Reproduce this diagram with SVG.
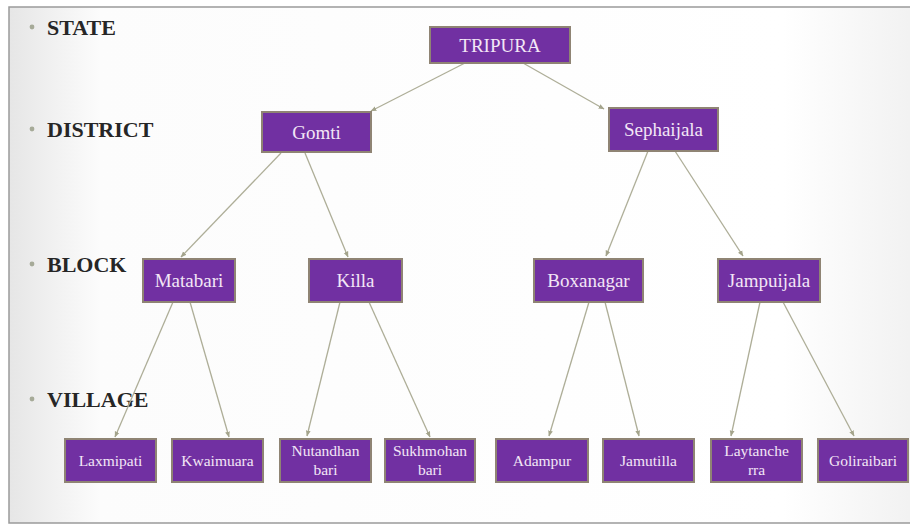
<svg xmlns="http://www.w3.org/2000/svg" width="910" height="525" viewBox="0 0 910 525">
<defs>
<linearGradient id="bg" x1="0" y1="0" x2="1" y2="0">
<stop offset="0" stop-color="#e6e6e6"/>
<stop offset="0.1" stop-color="#fcfcfc"/>
<stop offset="0.85" stop-color="#ffffff"/>
<stop offset="1" stop-color="#f1f1f1"/>
</linearGradient>
<marker id="arr" viewBox="0 0 10 10" refX="9" refY="5" markerWidth="6" markerHeight="6" orient="auto" markerUnits="userSpaceOnUse">
<path d="M0,1 L10,5 L0,9 z" fill="#a4a48c"/>
</marker>
<style>
rect.b{fill:#7130a2;stroke:#8f8474;stroke-width:2}
text.t,text.v{font-family:"Liberation Serif","Times New Roman",serif;fill:#f3e6f6;text-anchor:middle}
text.t{font-size:19px}
text.v{font-size:15.5px}
text.lab{font-family:"Liberation Serif","Times New Roman",serif;font-weight:bold;font-size:22px;fill:#262626}
.dot{fill:#a6aa98}
#edges line{stroke:#aeae98;stroke-width:1.3;marker-end:url(#arr)}
</style>
</defs>
<rect x="0" y="0" width="910" height="525" fill="#ffffff"/>
<rect x="9" y="7" width="910" height="516" fill="url(#bg)" stroke="#9a9a9a" stroke-width="1.5"/>
<g id="levels">
<circle class="dot" cx="32" cy="27" r="2.4"/><text class="lab" x="47" y="35">STATE</text>
<circle class="dot" cx="32" cy="129" r="2.4"/><text class="lab" x="47" y="137">DISTRICT</text>
<circle class="dot" cx="32" cy="264" r="2.4"/><text class="lab" x="47" y="272">BLOCK</text>
<circle class="dot" cx="32" cy="399" r="2.4"/><text class="lab" x="47" y="407">VILLAGE</text>
</g>
<g id="edges">
<line x1="465" y1="63" x2="371" y2="111"/>
<line x1="523" y1="63" x2="604" y2="109"/>
<line x1="281" y1="153" x2="181" y2="257"/>
<line x1="305" y1="153" x2="348" y2="257"/>
<line x1="648" y1="151" x2="606" y2="256"/>
<line x1="675" y1="151" x2="743" y2="256"/>
<line x1="173" y1="302" x2="115" y2="437"/>
<line x1="190" y1="302" x2="229" y2="437"/>
<line x1="340" y1="302" x2="307" y2="436"/>
<line x1="369" y1="302" x2="430" y2="437"/>
<line x1="589" y1="302" x2="549" y2="436"/>
<line x1="605" y1="302" x2="639" y2="436"/>
<line x1="760" y1="302" x2="731" y2="436"/>
<line x1="783" y1="302" x2="854" y2="436"/>
</g>
<g id="tripura"><rect class="b" x="430" y="27" width="140" height="36"/><text class="t" x="500" y="52">TRIPURA</text></g>
<g id="gomti"><rect class="b" x="262" y="112" width="109" height="40"/><text class="t" x="316.5" y="139">Gomti</text></g>
<g id="sephaijala"><rect class="b" x="609" y="108" width="109" height="43"/><text class="t" x="663.5" y="136">Sephaijala</text></g>
<g id="matabari"><rect class="b" x="143" y="259" width="92" height="43"/><text class="t" x="189" y="287">Matabari</text></g>
<g id="killa"><rect class="b" x="309" y="259" width="93" height="43"/><text class="t" x="355.5" y="287">Killa</text></g>
<g id="boxanagar"><rect class="b" x="534" y="259" width="109" height="43"/><text class="t" x="588.5" y="287">Boxanagar</text></g>
<g id="jampuijala"><rect class="b" x="718" y="259" width="102" height="43"/><text class="t" x="769" y="287">Jampuijala</text></g>
<g id="laxmipati"><rect class="b" x="65" y="439" width="91" height="43"/><text class="v" x="110.5" y="466">Laxmipati</text></g>
<g id="kwaimuara"><rect class="b" x="172" y="439" width="91" height="43"/><text class="v" x="217.5" y="466">Kwaimuara</text></g>
<g id="nutandhanbari"><rect class="b" x="280" y="439" width="91" height="43"/><text class="v" x="325.5" y="456">Nutandhan</text><text class="v" x="325.5" y="475">bari</text></g>
<g id="sukhmohanbari"><rect class="b" x="385" y="439" width="90" height="43"/><text class="v" x="430" y="456">Sukhmohan</text><text class="v" x="430" y="475">bari</text></g>
<g id="adampur"><rect class="b" x="496" y="439" width="92" height="43"/><text class="v" x="542" y="466">Adampur</text></g>
<g id="jamutilla"><rect class="b" x="603" y="439" width="91" height="43"/><text class="v" x="648.5" y="466">Jamutilla</text></g>
<g id="laytancherra"><rect class="b" x="711" y="439" width="91" height="43"/><text class="v" x="756.5" y="456">Laytanche</text><text class="v" x="756.5" y="475">rra</text></g>
<g id="goliraibari"><rect class="b" x="818" y="439" width="90" height="43"/><text class="v" x="863" y="466">Goliraibari</text></g>
</svg>
